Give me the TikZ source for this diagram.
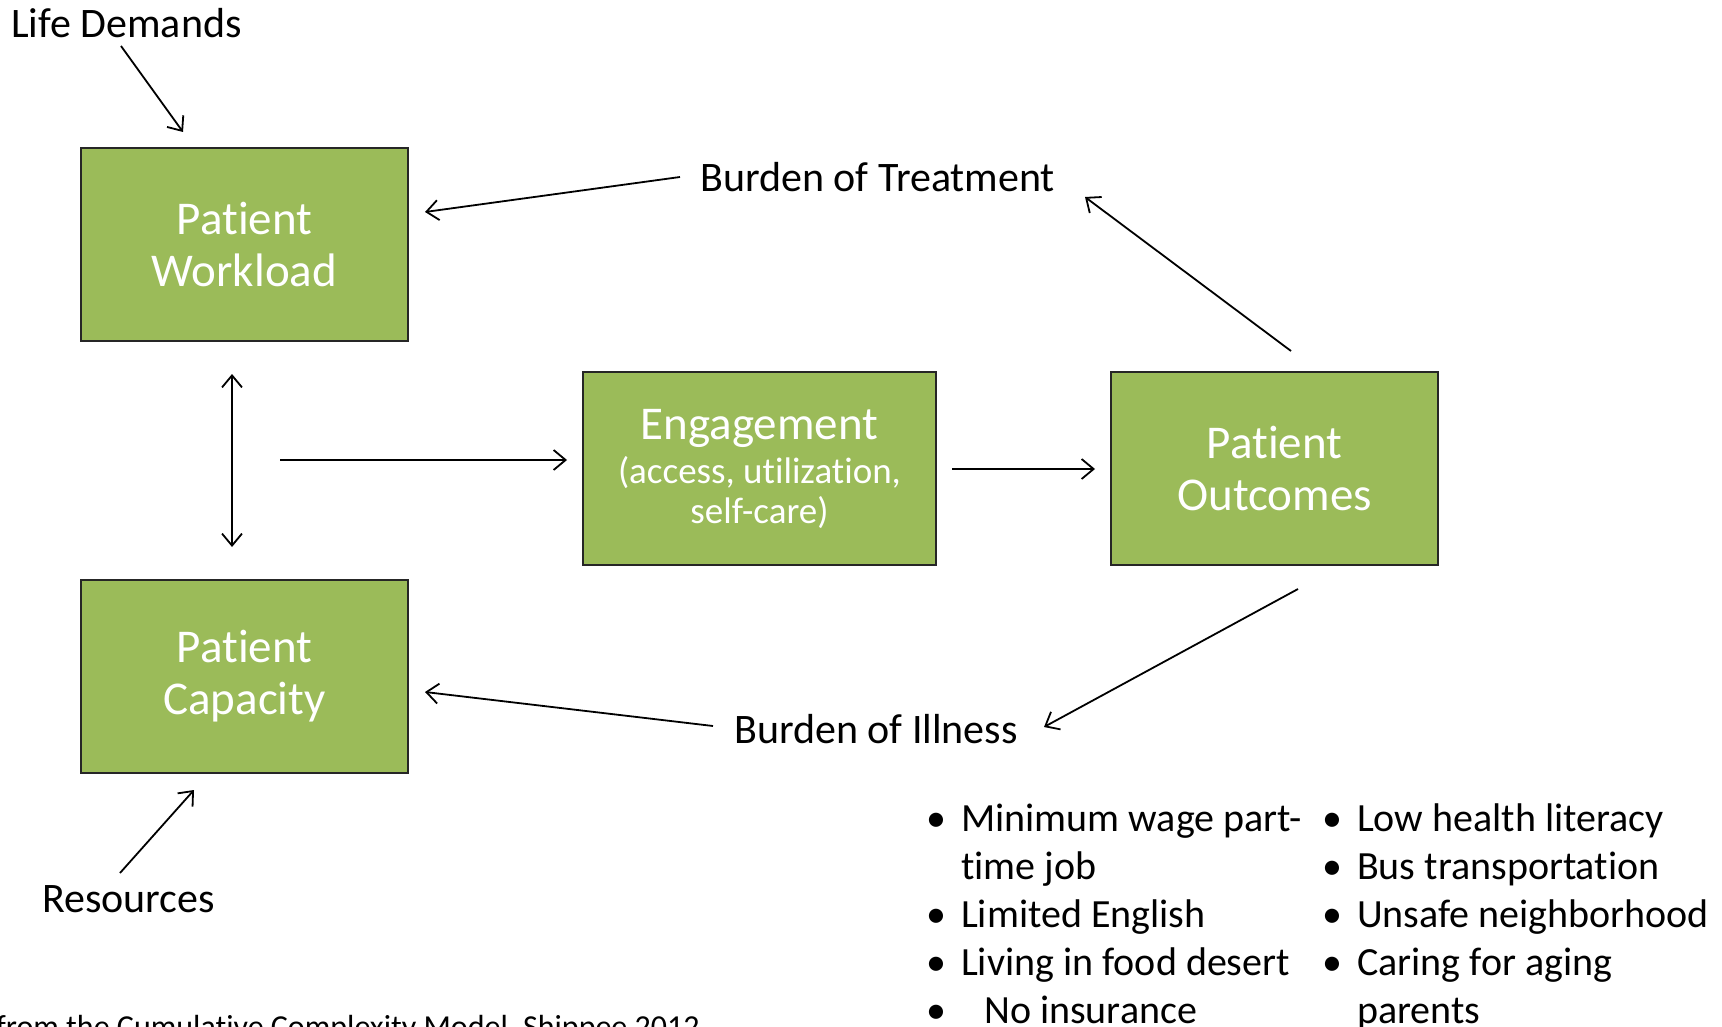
\documentclass[tikz,border=0pt]{standalone}
\usepackage{fontspec}
\setmainfont{Carlito}[Ligatures={NoCommon,NoContextual}]
\usetikzlibrary{arrows.meta}
\definecolor{boxgreen}{HTML}{9BBB59}
\begin{document}
\begin{tikzpicture}[x=1pt,y=-1pt,
  box/.style={draw=black!85, line width=1.3pt, fill=boxgreen, minimum width=327pt, minimum height=193pt, text=white, align=center, inner sep=0pt, font=\fontsize{47}{52}\selectfont},
  lbl/.style={anchor=base west, inner sep=0pt, font=\fontsize{42}{50}\selectfont},
  lst/.style={anchor=base west, inner sep=0pt, font=\fontsize{40}{48}\selectfont},
  conn/.style={line width=1.8pt, -{Straight Barb[length=12pt,width=20pt]}},
  conn2/.style={line width=1.8pt, {Straight Barb[length=12pt,width=20pt]}-{Straight Barb[length=12pt,width=20pt]}}]
\clip (0,0) rectangle (1722,1027);
\fill[white] (0,0) rectangle (1722,1027);

% boxes
\node[box] (work) at (244.5,244.5) {Patient\\Workload};
\node[box] (cap) at (244.5,676.5) {Patient\\Capacity};
\node[box, minimum width=353pt, font=\fontsize{37}{40}\selectfont] (eng) at (759.5,468.5) {{\fontsize{47}{47}\selectfont Engagement}\\[4pt](access, utilization,\\self-care)};
\node[box] (out) at (1274.5,468.5) {Patient\\Outcomes};

% labels
\node[lbl] (life) at (11,38) {Life Demands};
\node[lbl] (bot) at (700,192) {Burden of Treatment};
\node[lbl] (boi) at (734,743) {Burden of Illness};
\node[lbl] (res) at (42,912) {Resources};
\node[anchor=base west, inner sep=0pt, font=\fontsize{32}{36}\selectfont] (src) at (-4,1037) {from the Cumulative Complexity Model, Shippee 2012};

% bullet lists
\node[lst] (listA) at (926,831) {\begin{tabular}[t]{@{}p{35pt}@{}l@{}}•&Minimum wage part-\\&time job\\•&Limited English\\•&Living in food desert\\•&\hspace{23pt}No insurance\end{tabular}};
\node[lst] (listB) at (1322,831) {\begin{tabular}[t]{@{}p{35pt}@{}l@{}}•&Low health literacy\\•&Bus transportation\\•&Unsafe neighborhood\\•&Caring for aging\\&parents\end{tabular}};

% connector end points
\coordinate (ldA) at (121,46);
\coordinate (ldB) at (183,132);
\coordinate (btA) at (680,177);
\coordinate (btB) at (425,212);
\coordinate (obA) at (1291,351);
\coordinate (obB) at (1085,197);
\coordinate (vA) at (232,374);
\coordinate (vB) at (232,547);
\coordinate (hA) at (280,460);
\coordinate (hB) at (567,460);
\coordinate (eoA) at (952,469);
\coordinate (eoB) at (1095,469);
\coordinate (oiA) at (1298,589);
\coordinate (oiB) at (1044,727);
\coordinate (icA) at (713,726);
\coordinate (icB) at (425,692);
\coordinate (rcA) at (120,873);
\coordinate (rcB) at (194,790);

\draw[conn] (ldA) -- (ldB);
\draw[conn] (btA) -- (btB);
\draw[conn] (obA) -- (obB);
\draw[conn2] (vA) -- (vB);
\draw[conn] (hA) -- (hB);
\draw[conn] (eoA) -- (eoB);
\draw[conn] (oiA) -- (oiB);
\draw[conn] (icA) -- (icB);
\draw[conn] (rcA) -- (rcB);
\end{tikzpicture}
\end{document}
